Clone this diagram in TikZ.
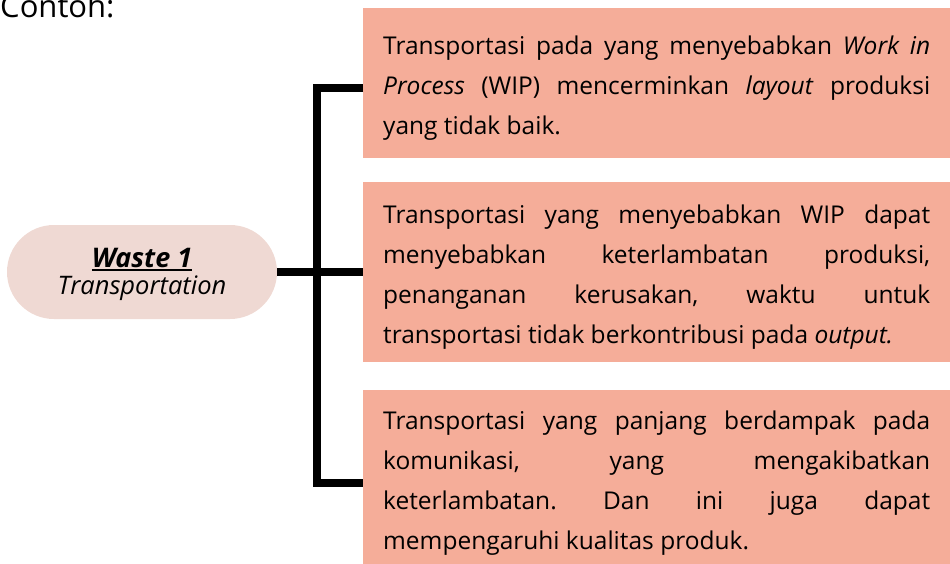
\documentclass[tikz,border=0pt]{standalone}
\usepackage{fontspec}
\setmainfont{Open Sans}
\definecolor{cardfill}{HTML}{F5AD99}
\definecolor{pillfill}{HTML}{EFD9D3}
\newcommand\thickul[1]{\setbox0\hbox{#1}\rlap{\rule[-3.5pt]{\wd0}{2.4pt}}\box0}
% card body: justified text block of a fixed height, nudged slightly down
\newcommand\cardbody[2]{\parbox[c][#1][c]{547pt}{\vspace*{10pt}%
  \fontsize{24.5}{40}\selectfont #2\par}}
\hbadness=10000
\frenchspacing
\tikzset{
  card/.style={fill=cardfill, anchor=north west, inner xsep=20pt, inner ysep=0pt},
  pill/.style={fill=pillfill, minimum width=270pt, minimum height=94pt,
    rounded corners=47pt, inner sep=0pt},
  conn/.style={line width=8pt, draw=black, line join=miter},
}
\begin{document}
\begin{tikzpicture}[x=1pt,y=-1pt]
  \useasboundingbox (0,0) rectangle (950,564);
  \clip (0,0) rectangle (950,564);

  \node[anchor=base west, inner sep=0pt, font=\fontsize{31}{36}\selectfont] (title) at (0,18) {Contoh:};

  \node[pill] (waste) at (142,272)
    {\parbox[c][94pt][t]{270pt}{\centering\vspace*{23.5pt}%
      \fontsize{27}{27}\selectfont\textbf{\textit{\thickul{Waste 1}}}\par
      \fontsize{25.5}{27}\selectfont\textit{Transportation}\par}};

  \node[card] (c1) at (363,8) {\cardbody{150pt}{%
     Transportasi pada yang menyebabkan \textit{Work in}\linebreak
     \textit{Process} (WIP) mencerminkan \textit{layout} produksi\linebreak
     yang tidak baik.}};

  \node[card] (c2) at (363,182) {\cardbody{180pt}{%
     Transportasi yang menyebabkan WIP dapat\linebreak
     menyebabkan keterlambatan produksi,\linebreak
     penanganan kerusakan, waktu untuk\linebreak
     transportasi tidak berkontribusi pada \textit{output.}}};

  \node[card] (c3) at (363,390) {\cardbody{176pt}{%
     Transportasi yang panjang berdampak pada\linebreak
     komunikasi, yang mengakibatkan\linebreak
     keterlambatan. Dan ini juga dapat\linebreak
     mempengaruhi kualitas produk.}};

  % bracket joining the three cards
  \coordinate (top) at (317,88);
  \coordinate (bot) at (317,483);
  \draw[conn] (top -| c1.west) -- (top) -- (bot) -- (bot -| c3.west);
  \draw[conn] (waste.east) -- (waste.east -| c2.west);
\end{tikzpicture}
\end{document}
